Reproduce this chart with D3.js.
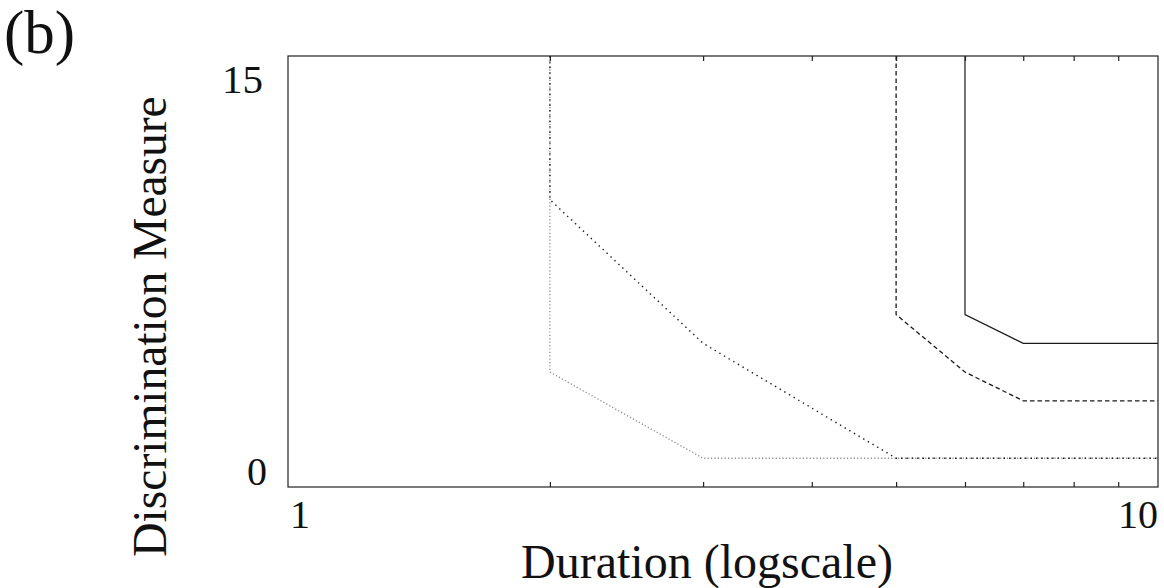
<!DOCTYPE html>
<html>
<head>
<meta charset="utf-8">
<script src="https://cdn.jsdelivr.net/npm/d3@7"></script>
<style>
  html, body { margin: 0; padding: 0; background: #fff; }
  svg { display: block; }
  text { font-family: "Liberation Serif", "Times New Roman", serif; fill: #111; }
</style>
</head>
<body>
<svg id="chart" width="1164" height="588"></svg>
<script>
// ---- data ----
const xDomain = [1, 10];
const yDomain = [0, 15];
const xMinorTicks = [2, 3, 4, 5, 6, 7, 8, 9];
const xTickLabels = ["1", "10"];
const yTickLabels = ["0", "15"];

// contour lines (duration, discrimination measure)
const contourGrayDotted  = [[2, 15], [2, 4], [3, 1], [10, 1]];
const contourBlackDotted = [[2, 15], [2, 10], [3, 5], [5, 1], [10, 1]];
const contourDashed      = [[5, 15], [5, 6], [6, 4], [7, 3], [10, 3]];
const contourSolid       = [[6, 15], [6, 6], [7, 5], [10, 5]];

// ---- layout ----
const svg = d3.select("#chart");
const mLeft = 288, mRight = 1158, mTop = 56, mBottom = 487;

const x = d3.scaleLog().domain(xDomain).range([mLeft, mRight]);
const y = d3.scaleLinear().domain(yDomain).range([mBottom, mTop]);

const line = d3.line().x(d => x(d[0])).y(d => y(d[1]));

// contours
const styles = [
  { data: contourGrayDotted,  stroke: "#8a8a8a", width: 1.3, dash: "1.2,2.2" },
  { data: contourBlackDotted, stroke: "#1a1a1a", width: 1.4, dash: "1.4,4" },
  { data: contourDashed,      stroke: "#1a1a1a", width: 1.3, dash: "4.5,3" },
  { data: contourSolid,       stroke: "#1a1a1a", width: 1.2, dash: null }
];
styles.forEach(s => {
  svg.append("path")
    .attr("d", line(s.data))
    .attr("fill", "none")
    .attr("stroke", s.stroke)
    .attr("stroke-width", s.width)
    .attr("stroke-dasharray", s.dash);
});

// axes box
svg.append("rect")
  .attr("x", mLeft).attr("y", mTop)
  .attr("width", mRight - mLeft).attr("height", mBottom - mTop)
  .attr("fill", "none").attr("stroke", "#222").attr("stroke-width", 1.2);

// minor ticks (bottom and top, inward)
const bottomAxis = d3.axisTop(x).tickValues(xMinorTicks).tickSize(5).tickFormat("");
svg.append("g").attr("transform", `translate(0,${mBottom})`).call(bottomAxis)
  .call(g => g.select(".domain").remove())
  .call(g => g.selectAll("line").attr("stroke", "#222").attr("stroke-width", 1.2));
const topAxis = d3.axisBottom(x).tickValues(xMinorTicks).tickSize(5).tickFormat("");
svg.append("g").attr("transform", `translate(0,${mTop})`).call(topAxis)
  .call(g => g.select(".domain").remove())
  .call(g => g.selectAll("line").attr("stroke", "#222").attr("stroke-width", 1.2));

// x tick labels at axis limits
svg.append("text").attr("x", x(+xTickLabels[0]) + 2).attr("y", 528)
  .attr("text-anchor", "start").attr("font-size", 40).text(xTickLabels[0]);
svg.append("text").attr("x", x(+xTickLabels[1])).attr("y", 528)
  .attr("text-anchor", "end").attr("font-size", 40).text(xTickLabels[1]);

// y tick labels at axis limits
svg.append("text").attr("x", 267).attr("y", y(+yTickLabels[0]) - 2)
  .attr("text-anchor", "end").attr("font-size", 40).text(yTickLabels[0]);
svg.append("text").attr("x", 263).attr("y", y(+yTickLabels[1]) + 37)
  .attr("text-anchor", "end").attr("font-size", 41).text(yTickLabels[1]);

// axis titles
svg.append("text").attr("x", (mLeft + mRight) / 2 - 16).attr("y", 578)
  .attr("text-anchor", "middle").attr("font-size", 48).text("Duration (logscale)");
svg.append("text")
  .attr("transform", `translate(166,${(mTop + mBottom) / 2 + 55}) rotate(-90)`)
  .attr("text-anchor", "middle").attr("font-size", 47.5).text("Discrimination Measure");

// panel label
svg.append("text").attr("x", 4).attr("y", 53).attr("font-size", 61).text("(b)");
</script>
</body>
</html>
